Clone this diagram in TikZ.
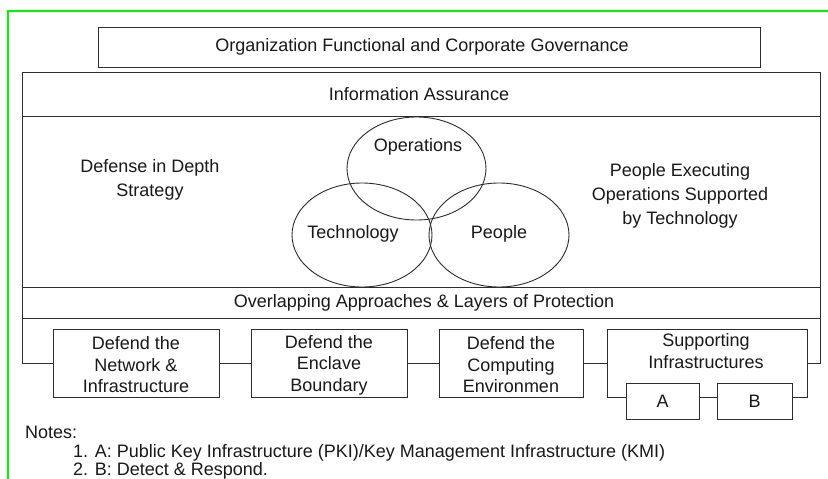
\documentclass[tikz,border=0pt]{standalone}
\usepackage{fontspec}
\setmainfont{Liberation Sans}
\usetikzlibrary{shapes.geometric}
\definecolor{framegreen}{RGB}{0,245,0}
\definecolor{ink}{RGB}{45,45,45}
\begin{document}
\begin{tikzpicture}[x=1pt,y=-1pt,
  every node/.style={text=black!90, font=\fontsize{18}{21.5}\selectfont, inner sep=0pt},
  box/.style={draw=ink, line width=1pt, rectangle},
  ring/.style={draw=ink, line width=0.9pt, ellipse},
  rule/.style={draw=ink, line width=1pt},
  link/.style={draw=ink, line width=1pt},
  wide/.style={font=\fontsize{18}{24}\selectfont, align=center}]
\useasboundingbox (0,0) rectangle (828,479);
\fill[white] (0,0) rectangle (828,479);
\draw[framegreen, line width=2pt] (8,479) -- (8,11) -- (828,11);

% governance box
\node[box, minimum width=662pt, minimum height=40pt] (gov) at (429,47) {};
\node (govtext) at (422,47) {Organization Functional and Corporate Governance};

% bottom row of defence boxes
\node[box, minimum width=166pt, minimum height=68pt, align=center] (net) at (136,363) {};
\node[align=center] (nettext) at (136,365) {Defend the\\Network \&\\Infrastructure};
\node[box, minimum width=156pt, minimum height=68pt] (encl) at (329,363) {};
\node[align=center] (encltext) at (329,365) {Defend the\\Enclave\\Boundary};
\node[box, minimum width=144pt, minimum height=68pt] (comp) at (511,363) {};
\node[align=center] (comptext) at (511,365) {Defend the\\Computing\\Environmen};
\node[box, minimum width=200pt, minimum height=68pt] (sup) at (707,363) {};
\node[align=center] (suptext) at (706,351) {Supporting\\Infrastructures};
\node[box, fill=white, minimum width=73pt, minimum height=36pt] (pa) at (662.5,401) {A};
\node[box, fill=white, minimum width=75pt, minimum height=36pt] (pb) at (754.5,401) {B};

\draw[link] (net.east) -- (encl.west);
\draw[link] (encl.east) -- (comp.west);
\draw[link] (comp.east) -- (sup.west);
\draw[link] (pa.east |- sup.south) -- (pb.west |- sup.south);

% information assurance frame
\coordinate (fbl) at (22,363);
\coordinate (ftl) at (22,72);
\coordinate (ftr) at (820,72);
\coordinate (fbr) at (820,363);
\draw[rule] (net.west) -- (fbl) -- (ftl) -- (ftr) -- (fbr) -- (sup.east);
\draw[rule] (22,116) -- (820,116);
\draw[rule] (22,287) -- (820,287);
\draw[rule] (22,318) -- (820,318);
\node (ia) at (419,94) {Information Assurance};
\node (layers) at (424,303) {Overlapping Approaches \& Layers of Protection};

% three overlapping circles
\node[ring, minimum width=139pt, minimum height=103pt] (ops) at (416.5,168.5) {};
\node[ring, minimum width=140pt, minimum height=104pt] (tech) at (362,235) {};
\node[ring, minimum width=140pt, minimum height=104pt] (ppl) at (499,235) {};
\node (opstext) at (418,147) {Operations};
\node (techtext) at (353,234) {Technology};
\node (ppltext) at (499,234) {People};

\node[wide] (strategy) at (150,180) {Defense in Depth\\Strategy};
\node[wide] (exec) at (680,196) {People Executing\\Operations Supported\\by Technology};

% notes
\node[anchor=west] (notes) at (25,432) {Notes:};
\node[anchor=west] (note1) at (73,453) {1. A: Public Key Infrastructure (PKI)/Key Management Infrastructure (KMI)};
\node[anchor=west] (note2) at (73,471) {2. B: Detect \& Respond.};
\end{tikzpicture}
\end{document}
